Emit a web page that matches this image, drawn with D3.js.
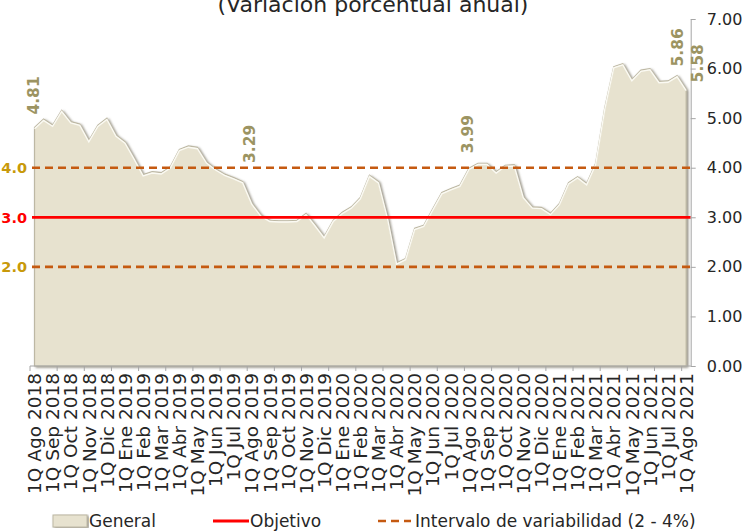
<!DOCTYPE html>
<html>
<head>
<meta charset="utf-8">
<script src="https://cdn.jsdelivr.net/npm/d3@7"></script>
<style>
  body { margin: 0; background: #fff; }
  text { font-family: "DejaVu Sans", sans-serif; }
</style>
</head>
<body>
<div class="visContainer"></div>
<script>
// Data.
const months = [
    'Ago 2018', 'Sep 2018', 'Oct 2018', 'Nov 2018', 'Dic 2018',
    'Ene 2019', 'Feb 2019', 'Mar 2019', 'Abr 2019', 'May 2019', 'Jun 2019', 'Jul 2019',
    'Ago 2019', 'Sep 2019', 'Oct 2019', 'Nov 2019', 'Dic 2019',
    'Ene 2020', 'Feb 2020', 'Mar 2020', 'Abr 2020', 'May 2020', 'Jun 2020', 'Jul 2020',
    'Ago 2020', 'Sep 2020', 'Oct 2020', 'Nov 2020', 'Dic 2020',
    'Ene 2021', 'Feb 2021', 'Mar 2021', 'Abr 2021', 'May 2021', 'Jun 2021', 'Jul 2021',
    'Ago 2021'
];
// Two fortnights per month, the series ends at 1Q Ago 2021.
const categories = months.flatMap(m => ['1Q ' + m, '2Q ' + m]).slice(0, -1);

const general = [
    4.81, 4.98, 4.86, 5.16, 4.93, 4.88, 4.55, 4.86, 5.00, 4.66,
    4.52, 4.20, 3.86, 3.92, 3.90, 4.02, 4.37, 4.44, 4.41, 4.12,
    3.98, 3.87, 3.80, 3.72, 3.29, 3.05, 2.94, 2.93, 2.93, 2.94,
    3.08, 2.85, 2.61, 2.94, 3.10, 3.21, 3.40, 3.85, 3.72, 3.00,
    2.08, 2.17, 2.78, 2.84, 3.17, 3.50, 3.58, 3.65, 3.99, 4.09,
    4.09, 3.92, 4.05, 4.06, 3.42, 3.21, 3.20, 3.08, 3.28, 3.70,
    3.82, 3.68, 4.09, 5.20, 6.04, 6.10, 5.78, 5.97, 6.00, 5.74,
    5.75, 5.86, 5.58
];
const objetivo = 3;
const intervalo = [2, 4];
const yTicks = [0, 1, 2, 3, 4, 5, 6, 7];
const labelled = ['1Q Ago 2018', '1Q Ago 2019', '1Q Ago 2020', '2Q Jul 2021', '1Q Ago 2021'];

const dataset = categories.map((c, i) => ({cat: c, value: general[i]}));

// SVG constants.
const width = 754;
const height = 531;

const svg = d3.select('.visContainer')
              .append('svg')
              .attr('width', width)
              .attr('height', height);

const defs = svg.append('defs');
const shadow = defs.append('filter').attr('id', 'bevel')
                   .attr('x', '-5%').attr('y', '-5%').attr('width', '110%').attr('height', '110%');
shadow.append('feDropShadow')
      .attr('dx', 1.6).attr('dy', 1.2).attr('stdDeviation', 0.8)
      .attr('flood-color', '#6f6b5c').attr('flood-opacity', 0.75);

// Scales.
const x = d3.scaleBand().domain(categories).range([30, 690.7]);
const y = d3.scaleLinear().domain([0, 7]).range([366, 19]);
const cx = c => x(c) + x.bandwidth() / 2;

// Title (partly cut off at the top, as in the source).
svg.append('text')
   .attr('x', 373)
   .attr('y', 12)
   .attr('text-anchor', 'middle')
   .attr('font-size', '22px')
   .attr('fill', '#262626')
   .text('(Variación porcentual anual)');

// Area.
const area = d3.area()
               .x(d => cx(d.cat))
               .y0(y(0))
               .y1(d => y(d.value));
svg.append('path')
   .datum(dataset)
   .attr('d', area)
   .attr('fill', '#e7e2cf')
   .attr('stroke', '#bdb8a4')
   .attr('stroke-width', 1.2)
   .attr('filter', 'url(#bevel)');

// Highlight along the top edge.
const topLine = d3.line().x(d => cx(d.cat)).y(d => y(d.value) + 1.3);
svg.append('path')
   .datum(dataset)
   .attr('d', topLine)
   .attr('fill', 'none')
   .attr('stroke', '#fbfaf3')
   .attr('stroke-width', 1.4);

// Reference lines.
const x0 = x.range()[0] + 2;
const x1 = x.range()[1];
svg.selectAll('.band')
   .data(intervalo)
   .enter()
   .append('line')
   .attr('x1', x0).attr('x2', x1)
   .attr('y1', d => y(d)).attr('y2', d => y(d))
   .attr('stroke', '#c55a11')
   .attr('stroke-width', 2.6)
   .attr('stroke-dasharray', '8,5');
svg.append('line')
   .attr('x1', x0).attr('x2', x1)
   .attr('y1', y(objetivo)).attr('y2', y(objetivo))
   .attr('stroke', '#ff0000')
   .attr('stroke-width', 2.8);

// Left labels.
const refLabels = [intervalo[1], objetivo, intervalo[0]];
svg.selectAll('.reflabel')
   .data(refLabels)
   .enter()
   .append('text')
   .attr('x', 27)
   .attr('y', d => y(d))
   .attr('dy', '0.36em')
   .attr('text-anchor', 'end')
   .attr('font-size', '14.5px')
   .attr('font-weight', 'bold')
   .attr('fill', d => d === objetivo ? '#ff0000' : '#c8990a')
   .text(d => d.toFixed(1));

// X axis.
const axisColor = '#a6a6a6';
svg.append('line')
   .attr('x1', x.range()[0]).attr('x2', x.range()[1])
   .attr('y1', y(0)).attr('y2', y(0))
   .attr('stroke', axisColor).attr('stroke-width', 1);
svg.selectAll('.xtick')
   .data(categories.filter((c, i) => i % 3 === 0))
   .enter()
   .append('line')
   .attr('x1', d => x(d)).attr('x2', d => x(d))
   .attr('y1', y(0)).attr('y2', y(0) + 5)
   .attr('stroke', axisColor);
svg.selectAll('.xlabel')
   .data(categories.filter((c, i) => i % 2 === 0))
   .enter()
   .append('text')
   .attr('transform', d => `translate(${cx(d)},373) rotate(-90)`)
   .attr('dy', '0.36em')
   .attr('text-anchor', 'end')
   .attr('font-size', '18.5px')
   .attr('fill', '#262626')
   .text(d => d);

// Y axis (right).
const yAxis = d3.axisRight(y)
                .tickValues(yTicks)
                .tickFormat(d3.format('.2f'))
                .tickSize(5)
                .tickSizeOuter(0)
                .tickPadding(11);
const gy = svg.append('g')
              .attr('transform', `translate(${x.range()[1]},0)`)
              .call(yAxis);
gy.select('.domain').attr('stroke', axisColor);
gy.selectAll('.tick line').attr('stroke', axisColor);
gy.selectAll('.tick text')
  .attr('font-size', '16px')
  .attr('font-family', '"DejaVu Sans", sans-serif')
  .attr('fill', '#262626');

// Data labels.
const labelPos = {
    '1Q Ago 2018': {dx: -1.5, gap: 13},
    '1Q Ago 2019': {dx: -2, gap: 40},
    '1Q Ago 2020': {dx: -2, gap: 15},
    '2Q Jul 2021': {dx: 0, gap: 9},
    '1Q Ago 2021': {dx: 11, gap: 7}
};
svg.selectAll('.dlabel')
   .data(dataset.filter(d => labelled.includes(d.cat)))
   .enter()
   .append('text')
   .attr('transform', d => `translate(${cx(d.cat) + labelPos[d.cat].dx},${y(d.value) - labelPos[d.cat].gap}) rotate(-90)`)
   .attr('dy', '0.36em')
   .attr('font-size', '15.5px')
   .attr('font-weight', 'bold')
   .attr('fill', '#9c9462')
   .text(d => d.value.toFixed(2));

// Legend.
const legend = svg.append('g');
legend.append('rect')
      .attr('x', 53).attr('y', 515).attr('width', 34).attr('height', 12)
      .attr('fill', '#e7e2cf').attr('stroke', '#bdb8a4')
      .attr('filter', 'url(#bevel)');
legend.append('text').attr('x', 89).attr('y', 527).attr('font-size', '17px').attr('fill', '#262626').text('General');
legend.append('line')
      .attr('x1', 213).attr('x2', 249).attr('y1', 521).attr('y2', 521)
      .attr('stroke', '#ff0000').attr('stroke-width', 2.8);
legend.append('text').attr('x', 250).attr('y', 527).attr('font-size', '17px').attr('fill', '#262626').text('Objetivo');
legend.append('line')
      .attr('x1', 378).attr('x2', 411).attr('y1', 521).attr('y2', 521)
      .attr('stroke', '#c55a11').attr('stroke-width', 2.6).attr('stroke-dasharray', '8,5');
legend.append('text').attr('x', 415).attr('y', 527).attr('font-size', '17px').attr('fill', '#262626').text('Intervalo de variabilidad (2 - 4%)');
</script>
</body>
</html>
